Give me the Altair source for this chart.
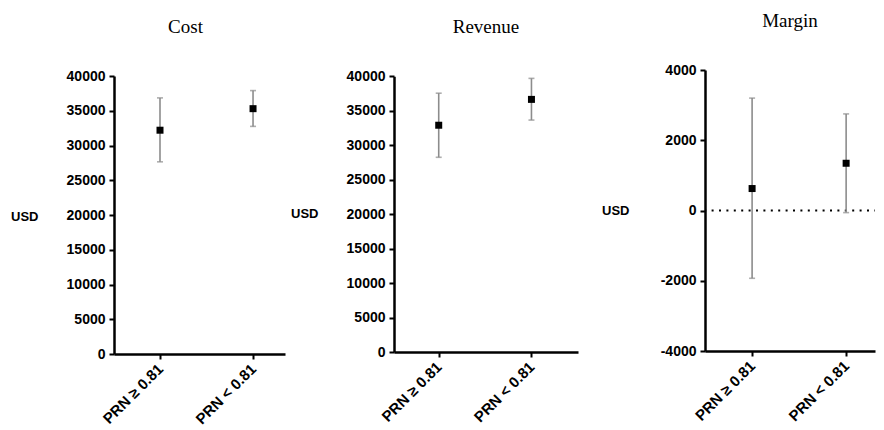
import altair as alt
import pandas as pd

groups = ["PRN ≥ 0.81", "PRN < 0.81"]

cost_mean = [32200, 35300]
cost_low = [27650, 32750]
cost_high = [36850, 37900]

rev_mean = [32900, 36650]
rev_low = [28250, 33650]
rev_high = [37550, 39700]

margin_mean = [625, 1345]
margin_low = [-1930, -60]
margin_high = [3200, 2750]

zero_line = [0]

FONT = "Liberation Sans"
BAR_COLOR = "#8c8c8c"


def panel(title, mean, low, high, domain, ticks, width, height, top, pad, align,
          usd_y, title_dx=0, zero=False):
    df = pd.DataFrame({"group": groups, "mean": mean, "low": low, "high": high})
    xaxis = alt.Axis(title=None, labelAngle=-45, labelAlign="right",
                     labelBaseline="middle", labelPadding=7,
                     labelFontSize=15, labelFontWeight="bold",
                     labelFont=FONT, labelColor="black")
    xscale = alt.Scale(type="point", padding=pad, align=align)
    yscale = alt.Scale(domain=domain, nice=False, zero=False, range=[height, top])
    yaxis = alt.Axis(title="USD", values=ticks, labelExpr="datum.value + ''",
                     labelOverlap=False, titleAngle=0,
                     titleAlign="right", titleBaseline="middle",
                     titleX=-76, titleY=usd_y, titleFont=FONT,
                     titleFontSize=13, titleFontWeight="bold", titleColor="black",
                     labelFont=FONT, labelFontSize=14, labelFontWeight="bold",
                     labelColor="black", labelPadding=4)

    def X():
        return alt.X("group:N", sort=groups, scale=xscale, axis=xaxis)

    def Y(field):
        return alt.Y(field, scale=yscale, axis=yaxis)

    base = alt.Chart(df)
    layers = []
    if zero:
        zdf = pd.DataFrame({"z": zero_line})
        layers.append(
            alt.Chart(zdf).mark_rule(color="black", strokeWidth=2,
                                     strokeDash=[2, 5.4], strokeDashOffset=-6)
            .encode(y=Y("z:Q"))
        )
    bars = base.mark_rule(color=BAR_COLOR, strokeWidth=1.6).encode(
        x=X(), y=Y("low:Q"), y2="high:Q")
    cap_lo = base.mark_tick(color=BAR_COLOR, thickness=1.6, size=6,
                            orient="horizontal").encode(x=X(), y=Y("low:Q"))
    cap_hi = base.mark_tick(color=BAR_COLOR, thickness=1.6, size=6,
                            orient="horizontal").encode(x=X(), y=Y("high:Q"))
    pts = base.mark_square(color="black", opacity=1, size=49).encode(
        x=X(), y=Y("mean:Q"))
    layers += [bars, cap_lo, cap_hi, pts]
    return alt.layer(*layers).properties(
        width=width, height=height,
        title=alt.TitleParams(title, font="Liberation Serif", fontSize=19,
                              fontWeight="normal", color="black",
                              anchor="middle", frame="group",
                              offset=32, dx=title_dx),
    )


cost_ticks = list(range(0, 40001, 5000))
margin_ticks = [-4000, -2000, 0, 2000, 4000]

p1 = panel("Cost", cost_mean, cost_low, cost_high, [0, 40000], cost_ticks,
           171, 284, 6, 0.419, 0.59, 146, title_dx=-14)
p2 = panel("Revenue", rev_mean, rev_low, rev_high, [0, 40000], cost_ticks,
           184, 282, 6.3, 0.492, 0.49, 143)
p3 = panel("Margin", margin_mean, margin_low, margin_high, [-4000, 4000],
           margin_ticks, 170, 281, 0, 0.404, 0.62, 140, zero=True)

chart = alt.hconcat(alt.hconcat(p1, p2, spacing=5), p3, spacing=23).properties(
    padding={"left": 2, "top": 4, "right": 0, "bottom": 0}
).configure_view(stroke=None).configure_axis(
    grid=False, domainColor="black", domainWidth=2.5, tickColor="black",
    tickWidth=2, tickSize=5,
)

chart.save("out.html", embed_options={"renderer": "svg", "actions": False})
